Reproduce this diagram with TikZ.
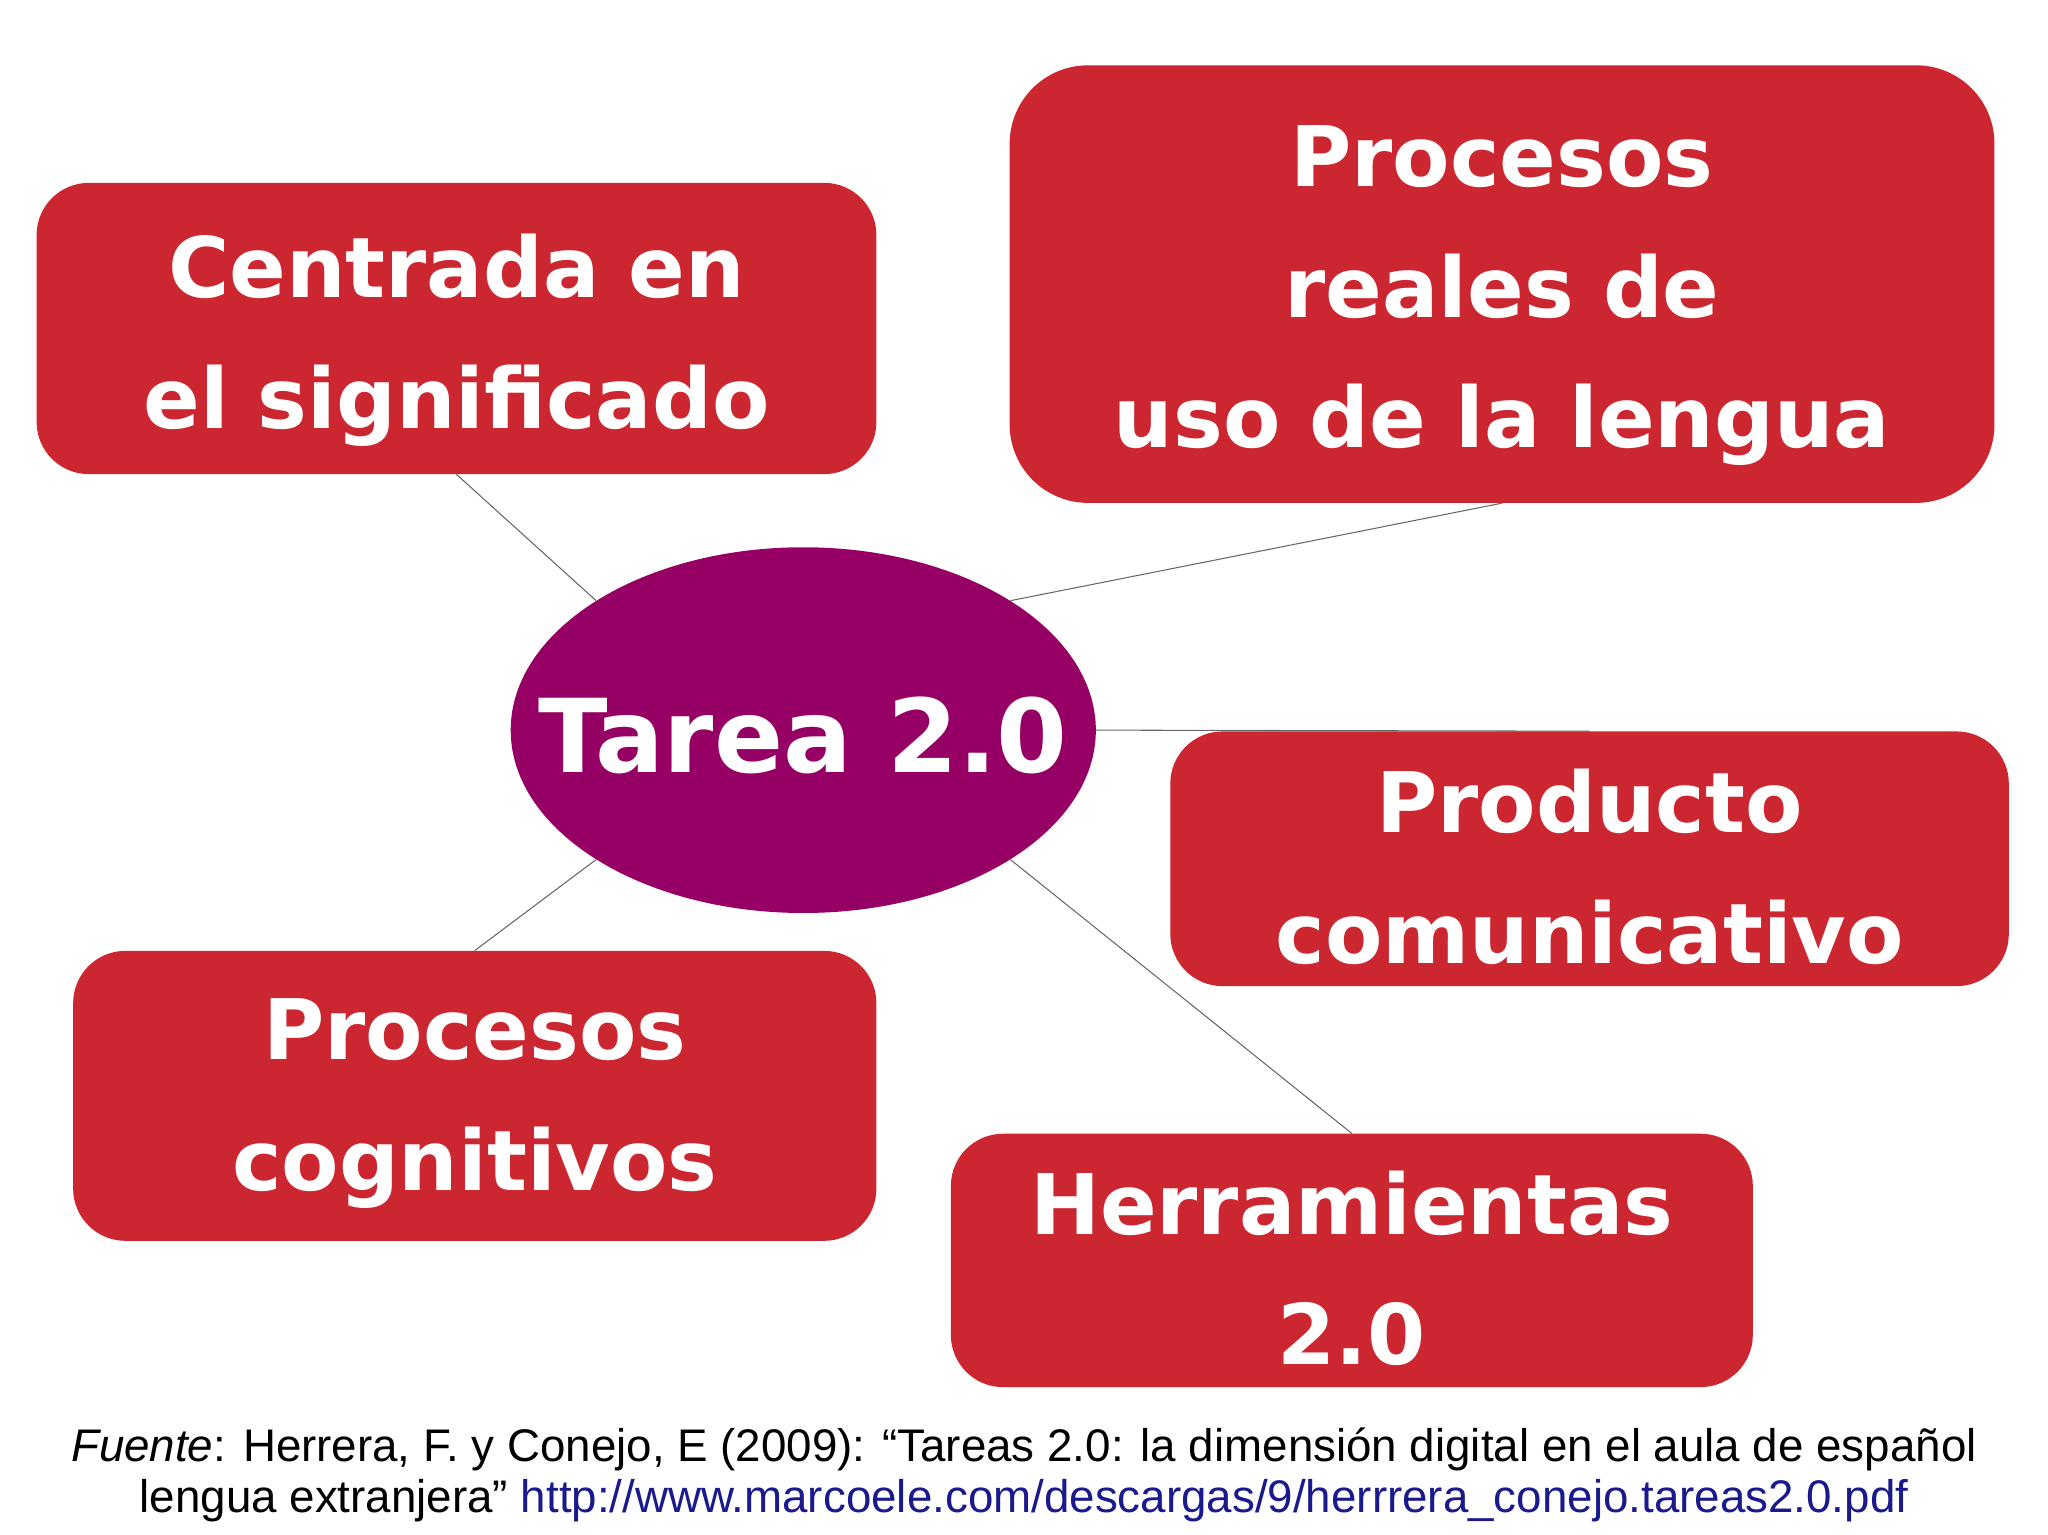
\documentclass[tikz,border=0pt]{standalone}
\usepackage{fontspec}
\usetikzlibrary{shapes.geometric}
\setmainfont{Liberation Sans}
\newfontfamily\boldf{DejaVu Sans}
\definecolor{boxred}{HTML}{CC2630}
\definecolor{tpurple}{HTML}{960064}
\definecolor{urlblue}{HTML}{1A1A8C}
\begin{document}
\begin{tikzpicture}[x=1pt,y=-1pt,
  rbox/.style={fill=boxred,draw=none,rounded corners=40pt,inner sep=0pt},
  btxt/.style={text=white,align=center,font=\boldf\bfseries\fontsize{64}{100}\selectfont},
  link/.style={draw=gray!80!black,line width=0.8pt}]
\useasboundingbox (0,0) rectangle (1568,1175);
\node[rbox,minimum width=643pt,minimum height=223pt,label={[btxt,yshift=-9pt]center:Centrada en\\el significado}] (a) at (349.5,251.5) {};
\node[rbox,rounded corners=60pt,minimum width=754pt,minimum height=335pt,label={[btxt,yshift=-9pt]center:Procesos\\reales de\\uso de la lengua}] (b) at (1150,217.5) {};
\node[rbox,minimum width=642pt,minimum height=195pt,label={[btxt,yshift=-6pt]center:Producto\\comunicativo}] (c) at (1217,657.5) {};
\node[rbox,minimum width=615pt,minimum height=222pt,label={[btxt,yshift=-6pt]center:Procesos\\cognitivos}] (d) at (363.5,839) {};
\node[rbox,minimum width=614pt,minimum height=194pt,label={[btxt,yshift=-6pt]center:Herramientas\\2.0}] (e) at (1035,965) {};
\node[ellipse,fill=tpurple,minimum width=448pt,minimum height=280pt,inner sep=0pt,
  label={[text=white,font=\boldf\bfseries\fontsize{78}{100}\selectfont,yshift=-4pt]center:Tarea 2.0}] (t) at (615,559) {};
\draw[link] (a.south) -- (t.148);
\draw[link] (b.south) -- (t.32);
\draw[link] (t.east) -- (c.north);
\draw[link] (d.north) -- (t.212);
\draw[link] (e.north) -- (t.328);
\node[align=center,font=\fontsize{35}{39}\selectfont] (f) at (784,1129)
 {\textit{Fuente}: Herrera, F. y Conejo, E (2009): “Tareas 2.0: la dimensión digital en el aula de español\\
  lengua extranjera” \textcolor{urlblue}{http://www.marcoele.com/descargas/9/herrrera\_conejo.tareas2.0.pdf}};
\end{tikzpicture}
\end{document}
